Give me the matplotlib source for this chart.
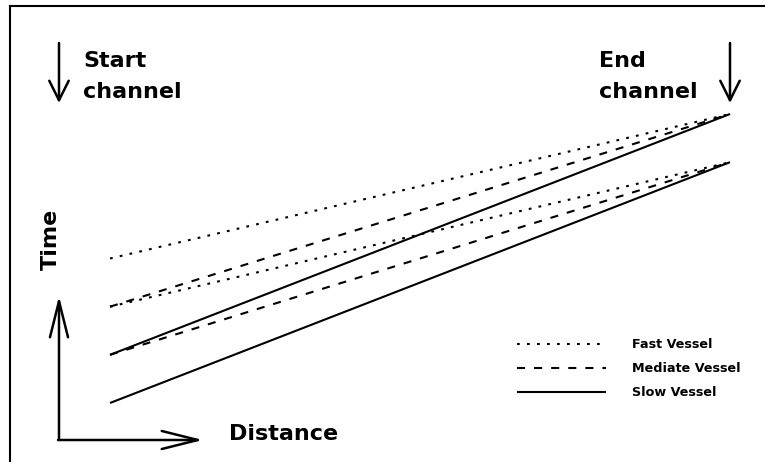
import matplotlib
matplotlib.use("Agg")
import matplotlib.pyplot as plt
from matplotlib.lines import Line2D

plt.rcParams['lines.scale_dashes'] = False

# ---- data ----
distance = [0, 10]
vessel_labels = ["Fast Vessel", "Mediate Vessel", "Slow Vessel"]
# upper group (arrives later at end channel)
upper_start = [3, 2, 1]
upper_end = 6
# lower group
lower_start = [2, 1, 0]
lower_end = 5

W, H = 765, 462
fig = plt.figure(figsize=(W / 100, H / 100), dpi=100)
ax = fig.add_axes([0, 0, 1, 1])
ax.set_axis_off()

# mapping: distance 0 -> px 110, 10 -> px 730 ; time 0 -> py 403, 6 -> py 114
xpx = 62.0
ypx = (403 - 114) / 6.0
ax.set_xlim((0 - 110) / xpx, (W - 110) / xpx)
ax.set_ylim((403 - H) / ypx, 403 / ypx)

styles = [dict(dashes=(2.0, 5.2)), dict(dashes=(5.8, 6.5)), dict(linestyle='-')]
lw = 1.5
handles = []
for i, lab in enumerate(vessel_labels):
    st = styles[i]
    for grp, (starts, end) in enumerate([(upper_start, upper_end), (lower_start, lower_end)]):
        ln, = ax.plot(distance, [starts[i], end], color='black', lw=lw,
                      solid_capstyle='butt', dash_capstyle='butt', **st)
        if grp == 0:
            ln.set_label(lab)
            handles.append(ln)


def fx(x):
    return x / W


def fy(y):
    return 1 - y / H


# border (left and top visible)
fig.add_artist(Line2D([fx(10), fx(10)], [fy(6), 0], transform=fig.transFigure, color='black', lw=1.5))
fig.add_artist(Line2D([fx(10), 1], [fy(6), fy(6)], transform=fig.transFigure, color='black', lw=1.5))


def arrow(x0, y0, x1, y1, hl, hw):
    ax.annotate('', xy=(fx(x1), fy(y1)), xytext=(fx(x0), fy(y0)),
                xycoords='figure fraction', textcoords='figure fraction',
                arrowprops=dict(arrowstyle=f'->,head_length={hl},head_width={hw}',
                                mutation_scale=1, lw=1.8, color='black',
                                shrinkA=0, shrinkB=0))


arrow(59, 43, 59, 103, 14, 7)      # start channel
arrow(730, 43, 730, 103, 14, 7)    # end channel
arrow(59, 440, 59, 296, 26, 6.5)   # time axis
arrow(58, 440, 203, 440, 26, 6.5)  # distance axis

big = dict(fontsize=16, family='DejaVu Sans', weight='bold', color='black',
           transform=fig.transFigure)
fig.text(fx(83), fy(67), "Start", ha='left', va='baseline', **big)
fig.text(fx(83), fy(98), "channel", ha='left', va='baseline', **big)
fig.text(fx(599), fy(67), "End", ha='left', va='baseline', **big)
fig.text(fx(599), fy(98), "channel", ha='left', va='baseline', **big)
fig.text(fx(229), fy(440), "Distance", ha='left', va='baseline', **big)
fig.text(fx(51), fy(239), "Time", ha='center', va='center', rotation=90, **big)

leg = ax.legend(handles=handles, loc='upper left',
                bbox_to_anchor=(fx(517), fy(338)), bbox_transform=fig.transFigure,
                frameon=False, borderpad=0, borderaxespad=0,
                handlelength=7.0, handletextpad=2.0, labelspacing=0.88,
                prop=dict(family='DejaVu Sans', weight='bold', size=9.2))

fig.savefig("out.png", dpi=100)
